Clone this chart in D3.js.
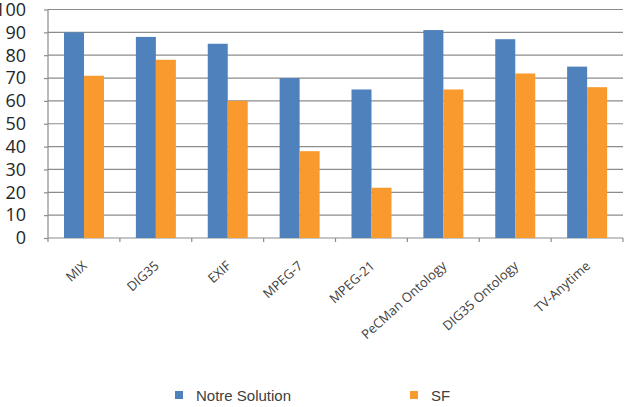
<!DOCTYPE html>
<html lang="fr">
<head>
    <meta charset="UTF-8">
    <title>Notre Solution vs SF</title>
    <style>
        body {
            margin: 0;
            background: #fff;
        }

        .grid line {
            stroke: #8c8c8c;
            stroke-width: 1.2;
        }

        .axis path,
        .axis line {
            stroke: #8c8c8c;
            stroke-width: 1.2;
        }

        .y-label {
            font-family: "Open Sans", sans-serif;
            font-size: 18px;
            fill: #262626;
        }

        .x-label {
            font-family: "Open Sans", sans-serif;
            font-size: 13px;
            fill: #404040;
        }

        .legend text {
            font-family: "Liberation Sans", Arial, sans-serif;
            font-size: 15px;
            fill: #404040;
        }
    </style>
</head>
<body>

<svg id="chart"></svg>

<script src="https://d3js.org/d3.v7.min.js"></script>
<script>
    // Data
    const categories = ["MIX", "DIG35", "EXIF", "MPEG-7", "MPEG-21", "PeCMan Ontology", "DIG35 Ontology", "TV-Anytime"];
    const seriesNames = ["Notre Solution", "SF"];
    const notreSolution = [90, 88, 85, 70, 65, 91, 87, 75];
    const sf = [71, 78, 60, 38, 22, 65, 72, 66];
    const yTicks = [0, 10, 20, 30, 40, 50, 60, 70, 80, 90, 100];
    const colors = ["#4f81bd", "#f99a2e"];

    const width = 633;
    const height = 407;
    const margin = { top: 9.5, right: 10, bottom: 169, left: 48 };

    const svg = d3.select("#chart")
        .attr("width", width)
        .attr("height", height);

    const x = d3.scaleBand()
        .domain(categories)
        .range([margin.left, width - margin.right]);

    const xInner = d3.scaleBand()
        .domain(seriesNames)
        .range([16, 56]);

    const y = d3.scaleLinear()
        .domain([0, 100])
        .range([height - margin.bottom, margin.top]);

    // Gridlines
    svg.append("g")
        .attr("class", "grid")
        .selectAll("line")
        .data(yTicks.filter(d => d > 0))
        .join("line")
        .attr("x1", margin.left)
        .attr("x2", width - margin.right)
        .attr("y1", d => y(d))
        .attr("y2", d => y(d));

    // Y axis with outward ticks
    const yAxis = svg.append("g")
        .attr("class", "axis")
        .attr("transform", `translate(${margin.left},0)`)
        .call(d3.axisLeft(y).tickValues(yTicks).tickSize(4).tickFormat(""));
    yAxis.select(".domain").attr("d", `M0,${y(0)}V${y(100)}`);

    svg.append("g")
        .selectAll("text")
        .data(yTicks)
        .join("text")
        .attr("class", "y-label")
        .attr("x", 26)
        .attr("y", d => y(d))
        .attr("dy", "0.35em")
        .attr("text-anchor", "end")
        .text(d => d);

    // X axis line with ticks at band boundaries
    const xAxis = svg.append("g")
        .attr("class", "axis")
        .attr("transform", `translate(0,${y(0)})`);
    xAxis.append("line")
        .attr("x1", margin.left)
        .attr("x2", width - margin.right)
        .attr("y1", 0)
        .attr("y2", 0);
    xAxis.selectAll(".tick")
        .data(categories.concat(["end"]))
        .join("line")
        .attr("class", "tick")
        .attr("x1", (d, i) => i < categories.length ? x(d) : x.range()[1])
        .attr("x2", (d, i) => i < categories.length ? x(d) : x.range()[1])
        .attr("y1", 0)
        .attr("y2", 4);

    // Bars
    const series = [notreSolution, sf];
    const groups = svg.append("g")
        .selectAll("g")
        .data(categories)
        .join("g")
        .attr("transform", d => `translate(${x(d)},0)`);

    groups.selectAll("rect")
        .data((d, i) => seriesNames.map((s, k) => ({ s, k, v: series[k][i] })))
        .join("rect")
        .attr("x", d => xInner(d.s))
        .attr("width", xInner.bandwidth())
        .attr("y", d => y(d.v))
        .attr("height", d => y(0) - y(d.v))
        .attr("fill", d => colors[d.k]);

    // Rotated category labels
    svg.append("g")
        .selectAll("text")
        .data(categories)
        .join("text")
        .attr("class", "x-label")
        .attr("text-anchor", "end")
        .attr("transform", d => `translate(${x(d) + x.bandwidth() / 2 + 4},${y(0) + 29}) rotate(-42)`)
        .text(d => d);

    // Legend
    const legendX = [175, 410];
    const legend = svg.append("g")
        .attr("class", "legend")
        .selectAll("g")
        .data(seriesNames)
        .join("g")
        .attr("transform", (d, i) => `translate(${legendX[i]},391)`);
    legend.append("rect")
        .attr("width", 8)
        .attr("height", 8)
        .attr("fill", (d, i) => colors[i]);
    legend.append("text")
        .attr("x", 21)
        .attr("y", 9.5)
        .text(d => d);
</script>

</body>
</html>
